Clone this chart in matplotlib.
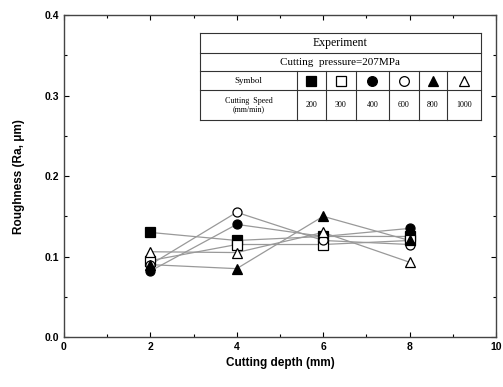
import matplotlib
matplotlib.use("Agg")
import matplotlib.pyplot as plt
from matplotlib.ticker import MultipleLocator

depth = [2, 4, 6, 8]
speeds = ["200", "300", "400", "600", "800", "1000"]
markers = ["s", "s", "o", "o", "^", "^"]
filled = [True, False, True, False, True, False]
roughness = [
    [0.130, 0.120, 0.125, 0.125],  # 200
    [0.095, 0.115, 0.115, 0.120],  # 300
    [0.082, 0.140, 0.125, 0.135],  # 400
    [0.090, 0.155, 0.120, 0.115],  # 600
    [0.090, 0.085, 0.150, 0.120],  # 800
    [0.106, 0.105, 0.130, 0.093],  # 1000
]

fig = plt.figure(figsize=(5.03, 3.87), dpi=100)
ax = fig.add_axes([0.127, 0.129, 0.859, 0.832])

for mk, fl, ys in zip(markers, filled, roughness):
    ax.plot(depth, ys, color="#999999", lw=0.9, zorder=2)
    ax.plot(depth, ys, ls="none", marker=mk, ms=6.5 if mk != "^" else 7.5,
            mfc="black" if fl else "white", mec="black", mew=0.9, zorder=3)

ax.set_xlim(0, 10)
ax.set_ylim(0, 0.4)
ax.xaxis.set_major_locator(MultipleLocator(2))
ax.xaxis.set_minor_locator(MultipleLocator(1))
ax.yaxis.set_major_locator(MultipleLocator(0.1))
ax.yaxis.set_minor_locator(MultipleLocator(0.05))
ax.yaxis.set_major_formatter(plt.FuncFormatter(lambda v, p: f"{v:.1f}"))
ax.tick_params(which="both", direction="in", top=True, right=True,
               labelsize=7.5, width=0.8)
ax.tick_params(which="major", length=3.5)
ax.tick_params(which="minor", length=2)
for lbl in ax.get_xticklabels() + ax.get_yticklabels():
    lbl.set_fontweight("bold")
    lbl.set_family("Liberation Sans")
for sp in ax.spines.values():
    sp.set_linewidth(1.0)
    sp.set_color("#444444")

ax.set_xlabel("Cutting depth (mm)", fontsize=8.5, fontweight="bold",
              family="Liberation Sans", labelpad=4)
ax.set_ylabel("Roughness (Ra, \u03bcm)", fontsize=8.5, fontweight="bold",
              family="Liberation Sans", labelpad=14)

# legend table drawn in axes coordinates
tr = ax.transAxes
x0, x1 = 0.315, 0.965
xlab = 0.539
cols = [xlab, 0.606, 0.676, 0.752, 0.821, 0.887, x1]
rows = [0.944, 0.882, 0.826, 0.767, 0.674]
lk = dict(color="#333333", lw=0.8, transform=tr)
for y in rows:
    ax.plot([x0, x1], [y, y], **lk)
ax.plot([x0, x0], [rows[0], rows[-1]], **lk)
ax.plot([x1, x1], [rows[0], rows[-1]], **lk)
for x in cols[:-1]:
    ax.plot([x, x], [rows[2], rows[-1]], **lk)

serif = "Liberation Serif"
ax.text((x0 + x1) / 2, (rows[0] + rows[1]) / 2, "Experiment", transform=tr,
        ha="center", va="center", fontsize=8.5, family=serif)
ax.text((x0 + x1) / 2, (rows[1] + rows[2]) / 2, "Cutting  pressure=207MPa",
        transform=tr, ha="center", va="center", fontsize=8, family=serif)
ax.text((x0 + xlab) / 2, (rows[2] + rows[3]) / 2, "Symbol", transform=tr,
        ha="center", va="center", fontsize=6.5, family=serif)
ax.text((x0 + xlab) / 2, (rows[3] + rows[4]) / 2, "Cutting  Speed\n(mm/min)",
        transform=tr, ha="center", va="center", fontsize=5.8, family=serif,
        linespacing=1.1)
for i in range(6):
    cx = (cols[i] + cols[i + 1]) / 2
    ax.plot([cx], [(rows[2] + rows[3]) / 2], transform=tr, ls="none",
            marker=markers[i], ms=7 if markers[i] != "^" else 7.5,
            mfc="black" if filled[i] else "white", mec="black", mew=0.9,
            clip_on=False)
    ax.text(cx, (rows[3] + rows[4]) / 2, speeds[i], transform=tr,
            ha="center", va="center", fontsize=5.8, family=serif)

fig.savefig("out.png", dpi=100)
